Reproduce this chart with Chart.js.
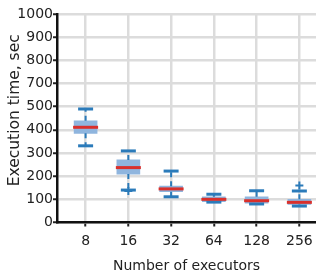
<!DOCTYPE html>
<html>
<head>
<meta charset="utf-8">
<script src="https://cdn.jsdelivr.net/npm/chart.js@4/dist/chart.umd.min.js"></script>
<style>
html,body{margin:0;padding:0;background:#fff;overflow:hidden;}
#wrap{width:316px;height:273px;position:relative;}
</style>
</head>
<body>
<div id="wrap"><canvas id="c" width="316" height="273"></canvas></div>
<script>
// Data
const categories = ['8', '16', '32', '64', '128', '256'];
const yTickLabels = ['0', '100', '200', '300', '400', '500', '700', '800', '900', '1000'];
const whiskerLow = [331, 140, 111, 88, 80, 71];
const q1 = [385, 209, 133, 90, 83, 78];
const median = [411, 237, 145, 100, 94, 87];
const q3 = [439, 270, 157, 111, 111, 100];
const whiskerHigh = [490, 309, 222, 122, 137, 136];
const flierX = [1, 5];
const flierY = [136, 160];
const yTitle = 'Execution time, sec';

const BLUE = '#2b7bba';
const BOXFILL = '#8fb5de';
const RED = '#d9302c';
const GRID = '#dcdcdc';
const FONT = {family: 'DejaVu Sans', size: 14, lineHeight: 1};

const boxData = categories.map((c, i) => ({x: i, y: [q1[i], q3[i]]}));
const medData = categories.map((c, i) => ({x: i, y: median[i]}));
const capData = [];
const whiskData = [];
categories.forEach((c, i) => {
  capData.push({x: i, y: whiskerLow[i]});
  capData.push({x: i, y: whiskerHigh[i]});
  whiskData.push({x: i, y: q3[i]}, {x: i, y: whiskerHigh[i]}, {x: i, y: null});
  whiskData.push({x: i, y: q1[i]}, {x: i, y: whiskerLow[i]}, {x: i, y: null});
});
const flierData = flierX.map((x, i) => ({x: x, y: flierY[i]}));

const yTitlePlugin = {
  id: 'yTitle',
  afterDraw(chart) {
    const ctx = chart.ctx;
    const y = chart.scales.y;
    ctx.save();
    ctx.translate(15, (y.top + y.bottom) / 2 - 8);
    ctx.rotate(-Math.PI / 2);
    ctx.font = '15.5px "DejaVu Sans"';
    ctx.fillStyle = '#222';
    ctx.textAlign = 'center';
    ctx.textBaseline = 'middle';
    ctx.fillText(yTitle, 0, 0);
    ctx.restore();
  }
};

new Chart(document.getElementById('c'), {
  type: 'bar',
  data: {
    datasets: [
      {type: 'scatter', data: medData, pointStyle: 'line', pointRadius: 12.5, pointBorderWidth: 3,
       borderColor: RED, backgroundColor: RED, clip: false},
      {type: 'scatter', data: capData, pointStyle: 'line', pointRadius: 7.5, pointBorderWidth: 3,
       borderColor: BLUE, backgroundColor: BLUE, clip: false},
      {type: 'scatter', data: flierData, pointStyle: 'cross', pointRadius: 4, pointBorderWidth: 2,
       borderColor: BLUE, backgroundColor: BLUE, clip: false},
      {type: 'line', data: whiskData, borderColor: BLUE, borderWidth: 2, borderDash: [5, 4],
       pointRadius: 0, spanGaps: false, fill: false},
      {type: 'bar', data: boxData, backgroundColor: BOXFILL, borderWidth: 0, barThickness: 23}
    ]
  },
  plugins: [yTitlePlugin],
  options: {
    responsive: false,
    animation: false,
    events: [],
    layout: {autoPadding: false, padding: {top: 14, right: 0, bottom: 0, left: 0}},
    plugins: {legend: {display: false}, tooltip: {enabled: false}},
    scales: {
      x: {
        type: 'linear',
        offset: false,
        min: -0.669,
        max: 5.389,
        afterFit: s => { s.height = 50.5; s.paddingLeft = 0; s.paddingRight = 0; },
        afterBuildTicks: s => { s.ticks = categories.map((c, i) => ({value: i})); },
        ticks: {
          includeBounds: false,
          stepSize: 1,
          padding: 8,
          color: '#222',
          font: FONT,
          maxRotation: 0,
          callback: (v) => categories[Math.round(v)]
        },
        grid: {offset: false, color: GRID, lineWidth: 2.5, drawTicks: true, tickLength: 4, tickColor: '#222', tickWidth: 2},
        border: {display: true, color: '#111', width: 2.5},
        title: {display: true, text: 'Number of executors', color: '#222', font: FONT, padding: {top: 0, bottom: 0}}
      },
      y: {
        type: 'linear',
        min: 0,
        max: 900,
        afterFit: s => { s.width = 57; s.paddingTop = 0; s.paddingBottom = 0; },
        ticks: {
          stepSize: 100,
          padding: 0,
          color: '#222',
          font: FONT,
          callback: (v, i) => yTickLabels[i]
        },
        grid: {color: GRID, lineWidth: 2.5, drawTicks: true, tickLength: 4, tickColor: '#222', tickWidth: 2},
        border: {display: true, color: '#111', width: 2.5},
        title: {display: false}
      }
    }
  }
});
</script>
</body>
</html>
